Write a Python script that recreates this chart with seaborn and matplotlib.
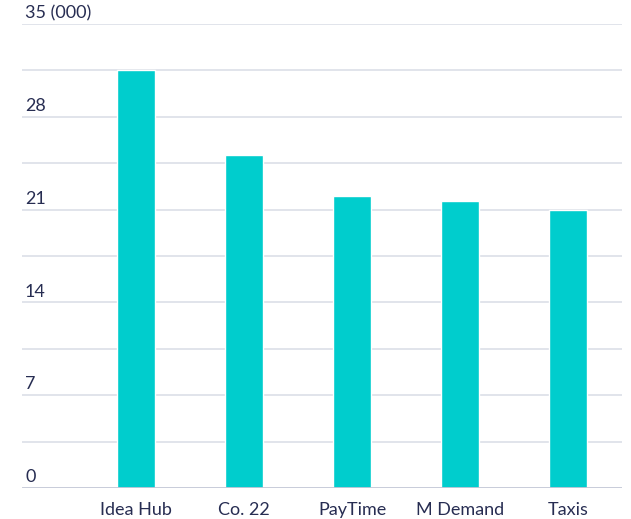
import matplotlib
matplotlib.use("Agg")
import matplotlib.pyplot as plt
import matplotlib.transforms as mtransforms
import seaborn as sns
import numpy as np

# data (thousands)
companies = ["Idea Hub", "Co. 22", "PayTime", "M Demand", "Taxis"]
values = [31.5, 25.1, 22.0, 21.65, 21.0]
grid_lines = [0, 3.5, 7, 10.5, 14, 17.5, 21, 24.5, 28, 31.5, 35]
tick_values = [0, 7, 14, 21, 28, 35]
tick_labels = ["0", "7", "14", "21", "28", "35 (000)"]

sns.set_theme(style="white")
plt.rcParams["font.family"] = ["Lato", "DejaVu Sans"]

text_color = "#272d52"
bar_color = "#00cdcd"

fig = plt.figure(figsize=(6.31, 5.19), dpi=100)
ax = fig.add_axes([22 / 631, 31 / 519, 600 / 631, 464 / 519])

for g in grid_lines[1:]:
    ax.axhline(g, color="#dcdfe8", lw=1.2, zorder=0)
ax.axhline(0, color="#c3c7d6", lw=2, zorder=3)

sns.barplot(x=companies, y=values, color=bar_color, width=0.35,
            saturation=1, ax=ax, zorder=2)

ax.set_xlim(-1.056, 4.5)
ax.set_ylim(0, 35)
for s in ax.spines.values():
    s.set_visible(False)
ax.set_yticks([])
ax.tick_params(axis="x", length=0, pad=10, labelsize=13, labelcolor=text_color)
ax.set_xlabel("")
ax.set_ylabel("")

trans = mtransforms.blended_transform_factory(ax.transAxes, ax.transData)
for v, lab in zip(tick_values, tick_labels):
    ax.annotate(lab, xy=(0.005, v), xycoords=trans, xytext=(0, 2),
                textcoords="offset points", ha="left", va="bottom",
                fontsize=13, color=text_color)

fig.savefig("out.png", dpi=100)
